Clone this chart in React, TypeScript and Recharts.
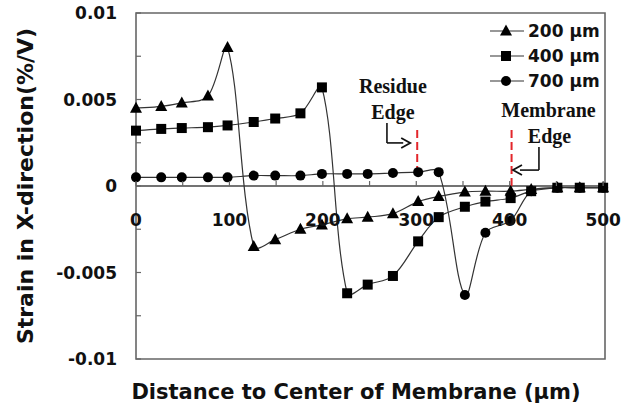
import {
  LineChart,
  Line,
  XAxis,
  YAxis,
  ReferenceLine,
  ReferenceArea,
  ReferenceDot,
  Legend,
} from 'recharts';

// distance to membrane centre (µm), shared by all three series
const distance = [0, 27, 49, 77, 98, 126, 149, 176, 199, 226, 248, 275, 302, 324, 352, 374, 401, 423, 451, 475, 500];

// strain in x-direction (%/V)
const strain200 = [
  0.0045, 0.0046, 0.0048, 0.0052, 0.008, -0.0035, -0.0031, -0.0025, -0.00225, -0.0019, -0.0018,
  -0.0016, -0.0009, -0.0006, -0.00035, -0.0003, -0.0003, -0.0002, -0.0001, -0.0001, -0.0001,
];
const strain400 = [
  0.0032, 0.0033, 0.00335, 0.0034, 0.0035, 0.0037, 0.0039, 0.0042, 0.0057, -0.0062, -0.0057,
  -0.0052, -0.0032, -0.0018, -0.0012, -0.0009, -0.0007, -0.0003, -0.0001, -0.0001, -0.0001,
];
const strain700 = [
  0.0005, 0.0005, 0.0005, 0.0005, 0.0005, 0.0006, 0.0006, 0.0006, 0.0007, 0.0007, 0.0007,
  0.00075, 0.0008, 0.0008, -0.0063, -0.0027, -0.002, -0.0003, -0.0001, -0.0001, -0.0001,
];

const xTicks = [0, 50, 100, 150, 200, 250, 300, 350, 400, 450, 500];
const yTicks = [-0.01, -0.0075, -0.005, -0.0025, 0, 0.0025, 0.005, 0.0075, 0.01];
const yLabelTicks = [-0.01, -0.005, 0, 0.005, 0.01];

const seriesNames = ['200 \u03bcm', '400 \u03bcm', '700 \u03bcm'];

const data = distance.map((d, i) => ({
  distance: d,
  s200: strain200[i],
  s400: strain400[i],
  s700: strain700[i],
}));

const W = 635;
const H = 409;
const PLOT_LEFT = 136;
const PLOT_TOP = 13;
const PLOT_BOTTOM = 359;
const ZERO_Y = (PLOT_TOP + PLOT_BOTTOM) / 2;

const AXIS_FONT = '"DejaVu Sans", Arial, sans-serif';
const NOTE_FONT = '"Liberation Serif", "Times New Roman", serif';
const LINE_COLOR = '#333';
const BORDER = '#666';

// Excel-like smoothed line: tangent through neighbours, control arms
// scaled by the length of each adjacent segment (no big overshoot on jumps)
const smoothCurve = (context: any) => {
  let pts: number[][] = [];
  return {
    areaStart() {},
    areaEnd() {},
    lineStart() {
      pts = [];
    },
    point(x: number, y: number) {
      pts.push([+x, +y]);
    },
    lineEnd() {
      const n = pts.length;
      if (!n) return;
      const dist = (a: number[], b: number[]) => Math.hypot(b[0] - a[0], b[1] - a[1]);
      const fwd: number[][] = [];
      const back: number[][] = [];
      for (let i = 0; i < n; i++) {
        const p0 = pts[i - 1] || pts[i];
        const p1 = pts[i];
        const p2 = pts[i + 1] || pts[i];
        const tx = p2[0] - p0[0];
        const ty = p2[1] - p0[1];
        const a = dist(p0, p1);
        const b = dist(p1, p2);
        const s = a + b || 1;
        fwd.push([p1[0] + (tx * b) / s / 3, p1[1] + (ty * b) / s / 3]);
        back.push([p1[0] - (tx * a) / s / 3, p1[1] - (ty * a) / s / 3]);
      }
      context.moveTo(pts[0][0], pts[0][1]);
      for (let i = 0; i < n - 1; i++) {
        context.bezierCurveTo(fwd[i][0], fwd[i][1], back[i + 1][0], back[i + 1][1], pts[i + 1][0], pts[i + 1][1]);
      }
    },
  };
};

function Marker({ kind, cx, cy }: { kind: number; cx: number; cy: number }) {
  if (cx == null || cy == null) return null;
  if (kind === 0) {
    return <polygon points={`${cx},${cy - 6.5} ${cx + 6},${cy + 4.5} ${cx - 6},${cy + 4.5}`} fill="#000" />;
  }
  if (kind === 1) {
    return <rect x={cx - 5} y={cy - 5} width={10} height={10} fill="#000" />;
  }
  return <circle cx={cx} cy={cy} r={5} fill="#000" />;
}

function XTick({ x, payload }: any) {
  const v = payload.value;
  return (
    <g>
      <line x1={x} x2={x} y1={ZERO_Y} y2={ZERO_Y - 5} stroke={BORDER} strokeWidth={1.2} />
      {v % 100 === 0 && (
        <text
          x={x}
          y={ZERO_Y + 34}
          textAnchor="middle"
          dominantBaseline="central"
          fontFamily={AXIS_FONT}
          fontWeight="bold"
          fontSize={17}
          fill="#111"
        >
          {v}
        </text>
      )}
    </g>
  );
}

function YTick({ y, payload }: any) {
  const v = payload.value;
  return (
    <g>
      <line x1={PLOT_LEFT} x2={PLOT_LEFT + 5} y1={y} y2={y} stroke={BORDER} strokeWidth={1.2} />
      {yLabelTicks.includes(v) && (
        <text
          x={PLOT_LEFT - 19}
          y={y}
          textAnchor="end"
          dominantBaseline="central"
          fontFamily={AXIS_FONT}
          fontWeight="bold"
          fontSize={17}
          fill="#111"
        >
          {String(v)}
        </text>
      )}
    </g>
  );
}

function Arrow({ x1, y1, x2, y2 }: any) {
  const dx = x2 - x1;
  const dy = y2 - y1;
  const len = Math.hypot(dx, dy) || 1;
  const ux = dx / len;
  const uy = dy / len;
  const bx = x2 - ux * 9;
  const by = y2 - uy * 9;
  return (
    <g>
      <line x1={x1} y1={y1} x2={bx + ux * 2} y2={by + uy * 2} stroke="#111" strokeWidth={1.6} />
      <polyline
        points={`${bx - uy * 5},${by + ux * 5} ${x2},${y2} ${bx + uy * 5},${by - ux * 5}`}
        fill="none"
        stroke="#111"
        strokeWidth={1.8}
      />
    </g>
  );
}

function note(text: string) {
  return (p: any) => (
    <text
      x={p.cx}
      y={p.cy}
      textAnchor="middle"
      dominantBaseline="central"
      fontFamily={NOTE_FONT}
      fontWeight="bold"
      fontSize={20}
      fill="#111"
    >
      {text}
    </text>
  );
}

function LegendBox() {
  return (
    <div style={{ display: 'flex', flexDirection: 'column' }}>
      {seriesNames.map((name, i) => (
        <div key={name} style={{ display: 'flex', alignItems: 'center', height: 25 }}>
          <svg width={34} height={16}>
            <line x1={0} x2={34} y1={8} y2={8} stroke={LINE_COLOR} strokeWidth={1.2} />
            <Marker kind={i} cx={16} cy={8} />
          </svg>
          <span
            style={{
              fontFamily: AXIS_FONT,
              fontWeight: 'bold',
              fontSize: 17,
              color: '#111',
              marginLeft: 4,
              whiteSpace: 'nowrap',
            }}
          >
            {name}
          </span>
        </div>
      ))}
    </div>
  );
}

export default function App() {
  const keys = ['s200', 's400', 's700'];
  return (
    <div style={{ position: 'absolute', left: 0, top: 0, background: '#fff' }}>
      <LineChart width={W} height={H} data={data} margin={{ top: PLOT_TOP, right: 30, bottom: 0, left: 0 }}>
        <XAxis
          dataKey="distance"
          type="number"
          domain={[0, 502]}
          ticks={xTicks}
          interval={0}
          axisLine={false}
          tickLine={false}
          tick={<XTick />}
          height={H - PLOT_BOTTOM}
          label={{
            content: (p: any) => (
              <text
                x={356}
                y={p.viewBox.y + 33}
                textAnchor="middle"
                dominantBaseline="central"
                fontFamily={AXIS_FONT}
                fontWeight="bold"
                fontSize={21}
                fill="#111"
              >
                Distance to Center of Membrane (μm)
              </text>
            ),
          }}
        />
        <YAxis
          type="number"
          domain={[-0.01, 0.01]}
          ticks={yTicks}
          interval={0}
          width={PLOT_LEFT}
          axisLine={false}
          tickLine={false}
          tick={<YTick />}
          label={{
            content: (p: any) => {
              const cx = 25;
              const cy = p.viewBox.y + p.viewBox.height / 2;
              return (
                <text
                  x={cx}
                  y={cy}
                  transform={`rotate(-90 ${cx} ${cy})`}
                  textAnchor="middle"
                  dominantBaseline="central"
                  fontFamily={AXIS_FONT}
                  fontWeight="bold"
                  fontSize={22}
                  fill="#111"
                >
                  Strain in X-direction(%/V)
                </text>
              );
            },
          }}
        />
        <ReferenceArea x1={0} x2={502} y1={-0.01} y2={0.01} fill="none" stroke={BORDER} strokeWidth={1.6} />
        <ReferenceLine y={0} stroke="#444" strokeWidth={1.5} />

        <ReferenceLine
          segment={[{ x: 301, y: 0.00324 }, { x: 301, y: 0.0008 }]}
          stroke="#e3262b"
          strokeWidth={2}
          strokeDasharray="8 4"
        />
        <ReferenceLine
          segment={[{ x: 402, y: 0.00324 }, { x: 402, y: 0 }]}
          stroke="#e3262b"
          strokeWidth={2}
          strokeDasharray="8 4"
        />
        <ReferenceLine segment={[{ x: 268.6, y: 0.00364 }, { x: 268.6, y: 0.00249 }]} stroke="#111" strokeWidth={1.6} />
        <ReferenceLine segment={[{ x: 268.6, y: 0.00249 }, { x: 293.5, y: 0.00249 }]} shape={<Arrow />} />
        <ReferenceLine segment={[{ x: 431.3, y: 0.00225 }, { x: 431.3, y: 0.00092 }]} stroke="#111" strokeWidth={1.6} />
        <ReferenceLine segment={[{ x: 431.3, y: 0.00092 }, { x: 403.5, y: 0.00092 }]} shape={<Arrow />} />

        <ReferenceDot x={275} y={0.00578} shape={note('Residue')} />
        <ReferenceDot x={275} y={0.00428} shape={note('Edge')} />
        <ReferenceDot x={441.5} y={0.00439} shape={note('Membrane')} />
        <ReferenceDot x={442.6} y={0.00289} shape={note('Edge')} />

        {keys.map((k, i) => (
          <Line
            key={k}
            dataKey={k}
            name={seriesNames[i]}
            type={smoothCurve as any}
            stroke={LINE_COLOR}
            strokeWidth={1.2}
            isAnimationActive={false}
            dot={(p: any) => <Marker key={`${k}-${p.index}`} kind={i} cx={p.cx} cy={p.cy} />}
            activeDot={false}
          />
        ))}

        <Legend
          layout="vertical"
          align="center"
          verticalAlign="middle"
          content={() => <LegendBox />}
          wrapperStyle={{ position: 'absolute', top: 18, left: 490, width: 120, height: 75 }}
        />
      </LineChart>
    </div>
  );
}
